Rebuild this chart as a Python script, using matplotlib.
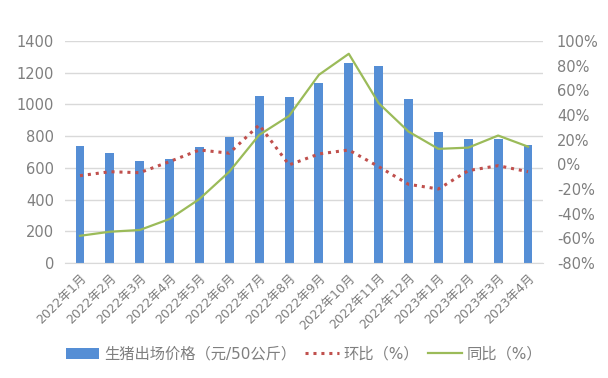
import matplotlib
matplotlib.use("Agg")
import matplotlib.pyplot as plt
import numpy as np

plt.rcParams['font.family'] = ['DejaVu Sans', 'Noto Sans CJK SC']

months = ["2022年1月", "2022年2月", "2022年3月", "2022年4月", "2022年5月", "2022年6月",
          "2022年7月", "2022年8月", "2022年9月", "2022年10月", "2022年11月", "2022年12月",
          "2023年1月", "2023年2月", "2023年3月", "2023年4月"]
price = [738, 694, 643, 656, 731, 795, 1053, 1047, 1135, 1261, 1242, 1034, 826, 782, 782, 744]
mom = [-9.2, -6.0, -6.8, 2.2, 11.6, 9.0, 31.9, -0.5, 8.4, 11.6, -1.9, -16.2, -20.0, -5.1, -1.1, -6.0]
yoy = [-57.9, -54.6, -53.2, -44.3, -28.1, -6.0, 23.8, 39.2, 72.5, 89.5, 49.5, 26.5, 12.5, 13.5, 23.3, 14.3]

gray = "#7f7f7f"
fig = plt.figure(figsize=(6.08, 3.78), dpi=100)
ax = fig.add_axes([0.107, 0.304, 0.786, 0.588])
ax2 = ax.twinx()

x = np.arange(len(months))
bars = ax.bar(x, price, width=0.3, color="#558ed5", zorder=2)
ax.set_ylim(0, 1400)
ax.set_yticks(range(0, 1401, 200))
ax.set_xlim(-0.5, len(months) - 0.5)
ax.yaxis.grid(True, color="#d9d9d9", linewidth=1, zorder=0)
ax.set_axisbelow(True)

l1, = ax2.plot(x, mom, color="#c0504d", linestyle=(0, (1, 1.6)), linewidth=2.2)
l2, = ax2.plot(x, yoy, color="#9bbb59", linewidth=1.6)
ax2.set_ylim(-80, 100)
ax2.set_yticks(range(-80, 101, 20))
ax2.set_yticklabels([f"{v}%" for v in range(-80, 101, 20)])

for a in (ax, ax2):
    for s in a.spines.values():
        s.set_visible(False)
    a.tick_params(length=0, labelsize=10.5, labelcolor=gray)
ax.spines['bottom'].set_visible(True)
ax.spines['bottom'].set_color("#d9d9d9")
ax.tick_params(axis='y', pad=8)
ax2.tick_params(axis='y', pad=10)

ax.set_xticks(x)
ax.set_xticklabels(months, rotation=45, ha="right", rotation_mode="anchor",
                   fontsize=9, color=gray)
ax.tick_params(axis='x', pad=6)

fig.legend([bars, l1, l2], ["生猪出场价格（元/50公斤）", "环比（%）", "同比（%）"],
           loc="center", bbox_to_anchor=(0.5, 0.063), ncol=3, frameon=False,
           fontsize=11, labelcolor=gray, handlelength=2.2, columnspacing=0.6,
           handletextpad=0.3)

fig.savefig("out.png", dpi=100)
